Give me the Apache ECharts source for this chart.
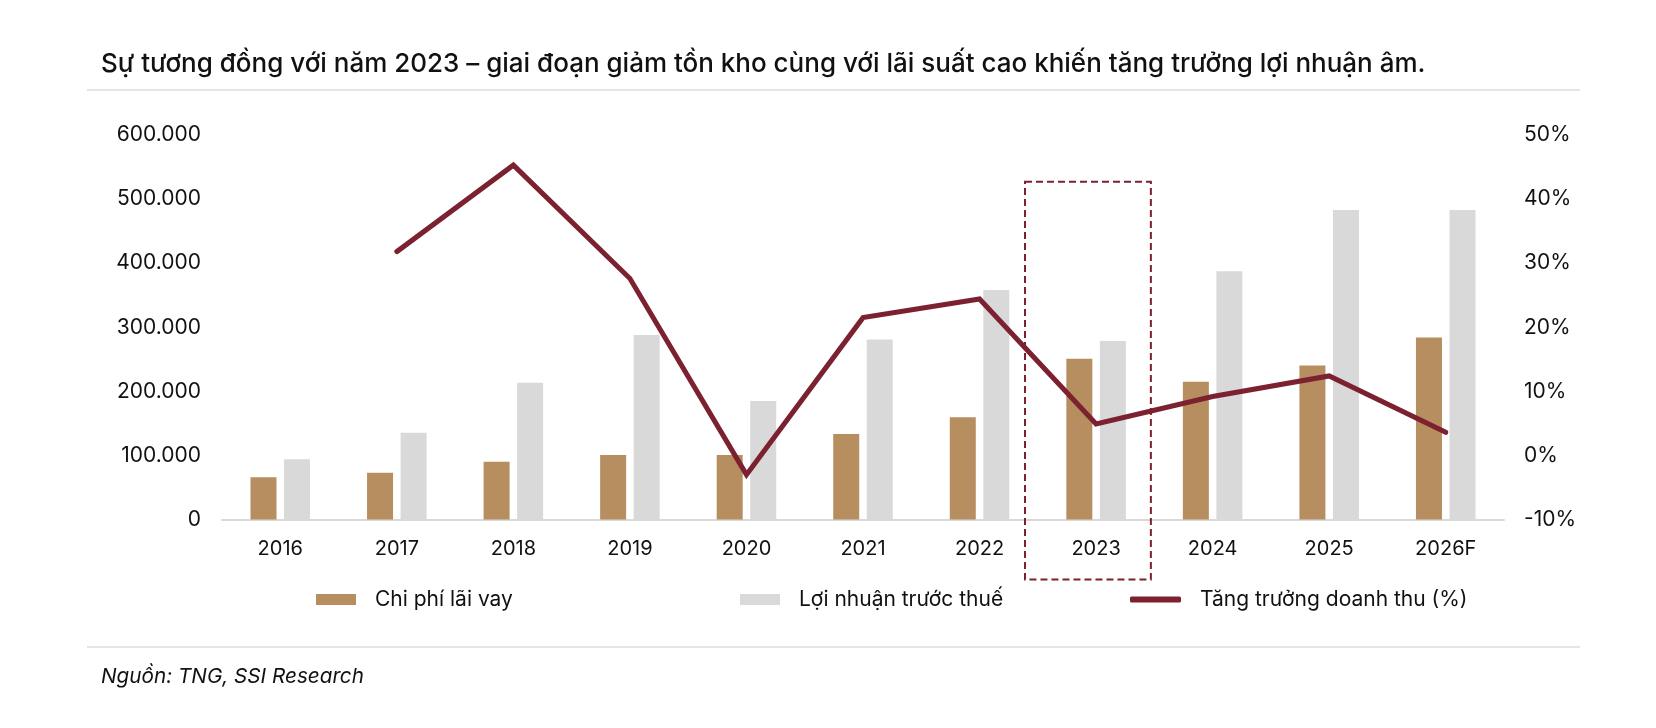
<!DOCTYPE html>
<html>
<head>
<meta charset="utf-8">
<script src="https://cdn.jsdelivr.net/npm/echarts@6/dist/echarts.min.js"></script>
<style>
  html, body { margin: 0; padding: 0; background: #fff; }
  #chart { width: 1656px; height: 728px; }
</style>
</head>
<body>
<div id="chart"></div>
<script>
// du lieu doc tu hinh
const years = ['2016', '2017', '2018', '2019', '2020', '2021', '2022', '2023', '2024', '2025', '2026F'];
const chiPhiLaiVay = [66000, 73000, 90000, 100500, 100500, 133500, 159500, 251000, 215000, 240500, 284000];
const loiNhuanTruocThue = [94000, 135500, 213500, 288000, 185000, 281000, 358000, 278500, 387500, 483000, 483000];
const tangTruongDoanhThu = [null, 31.8, 45.3, 27.6, -3.0, 21.5, 24.4, 4.9, 9.2, 12.4, 3.6];
const leftTicks = { min: 0, max: 600000, interval: 100000 };
const rightTicks = { min: -10, max: 50, interval: 10 };

const FONT = 'Inter';
const TEXT = '#111';
const BROWN = '#B68E60';
const GREY = '#D9D9D9';
const MAROON = '#7B2130';

const chart = echarts.init(document.getElementById('chart'));

function fmtThousands(v) {
    return String(v).replace(/\B(?=(\d{3})+(?!\d))/g, '.');
}

const legendText = { fontFamily: FONT, fontSize: 21, color: TEXT, padding: [0, 0, 0, 14] };

chart.setOption({
    animation: false,
    backgroundColor: '#fff',
    textStyle: { fontFamily: FONT },
    title: [{
        text: 'Sự tương đồng với năm 2023 – giai đoạn giảm tồn kho cùng với lãi suất cao khiến tăng trưởng lợi nhuận âm.',
        left: 101,
        top: 51,
        padding: 0,
        textStyle: { fontFamily: FONT, fontSize: 26, fontWeight: 500, color: TEXT }
    }, {
        text: 'Nguồn: TNG, SSI Research',
        left: 101,
        top: 666,
        padding: 0,
        textStyle: { fontFamily: FONT, fontSize: 20.7, fontStyle: 'italic', fontWeight: 'normal', color: TEXT }
    }],
    grid: { left: 222, right: 152, top: 135, bottom: 208.5 },
    legend: [{
        data: ['Chi phí lãi vay'],
        left: 316, top: 589, padding: 0,
        icon: 'rect', itemWidth: 40, itemHeight: 11, itemGap: 0,
        textStyle: legendText
    }, {
        data: ['Lợi nhuận trước thuế'],
        left: 740, top: 589, padding: 0,
        icon: 'rect', itemWidth: 40, itemHeight: 11, itemGap: 0,
        textStyle: legendText
    }, {
        data: ['Tăng trưởng doanh thu (%)'],
        left: 1130, top: 589, padding: 0,
        icon: 'roundRect', itemWidth: 51, itemHeight: 6, itemGap: 0,
        textStyle: legendText
    }],
    xAxis: {
        type: 'category',
        data: years,
        axisLine: { show: true, lineStyle: { color: GREY, width: 2 } },
        axisTick: { show: false },
        axisLabel: { color: TEXT, fontFamily: FONT, fontSize: 20, margin: 19 }
    },
    yAxis: [{
        type: 'value',
        min: leftTicks.min, max: leftTicks.max, interval: leftTicks.interval,
        splitLine: { show: false },
        axisLine: { show: false },
        axisTick: { show: false },
        axisLabel: { color: TEXT, fontFamily: FONT, fontSize: 21, margin: 21, formatter: fmtThousands }
    }, {
        type: 'value',
        min: rightTicks.min, max: rightTicks.max, interval: rightTicks.interval,
        splitLine: { show: false },
        axisLine: { show: false },
        axisTick: { show: false },
        axisLabel: { color: TEXT, fontFamily: FONT, fontSize: 21, margin: 20, formatter: '{value}%' }
    }],
    series: [{
        name: 'Chi phí lãi vay',
        type: 'bar',
        data: chiPhiLaiVay,
        barWidth: 26,
        barGap: '29%',
        itemStyle: { color: BROWN }
    }, {
        name: 'Lợi nhuận trước thuế',
        type: 'bar',
        data: loiNhuanTruocThue,
        barWidth: 26,
        itemStyle: { color: GREY }
    }, {
        name: 'Tăng trưởng doanh thu (%)',
        type: 'line',
        yAxisIndex: 1,
        data: tangTruongDoanhThu,
        symbol: 'none',
        lineStyle: { color: MAROON, width: 5, cap: 'round', join: 'miter' },
        itemStyle: { color: MAROON }
    }]
});

// khung net dut quanh nam 2023 + duong phan cach
const cx = chart.convertToPixel({ xAxisIndex: 0 }, '2023');
const band = chart.convertToPixel({ xAxisIndex: 0 }, '2024') - cx;
const baseY = chart.convertToPixel({ yAxisIndex: 0 }, 0);
const topY = chart.convertToPixel({ yAxisIndex: 0 }, 527000);

chart.setOption({
    graphic: [{
        type: 'rect',
        shape: { x: cx - band * 0.61, y: topY, width: band * 1.08, height: baseY + 60 - topY },
        style: { fill: 'none', stroke: MAROON, lineWidth: 2, lineDash: [7, 4] },
        z: 10
    }, {
        type: 'line',
        shape: { x1: 87, y1: 90, x2: 1580, y2: 90 },
        style: { stroke: '#DCDCDC', lineWidth: 1.5 }
    }, {
        type: 'line',
        shape: { x1: 87, y1: 647, x2: 1580, y2: 647 },
        style: { stroke: '#DCDCDC', lineWidth: 1.5 }
    }]
});
</script>
</body>
</html>
